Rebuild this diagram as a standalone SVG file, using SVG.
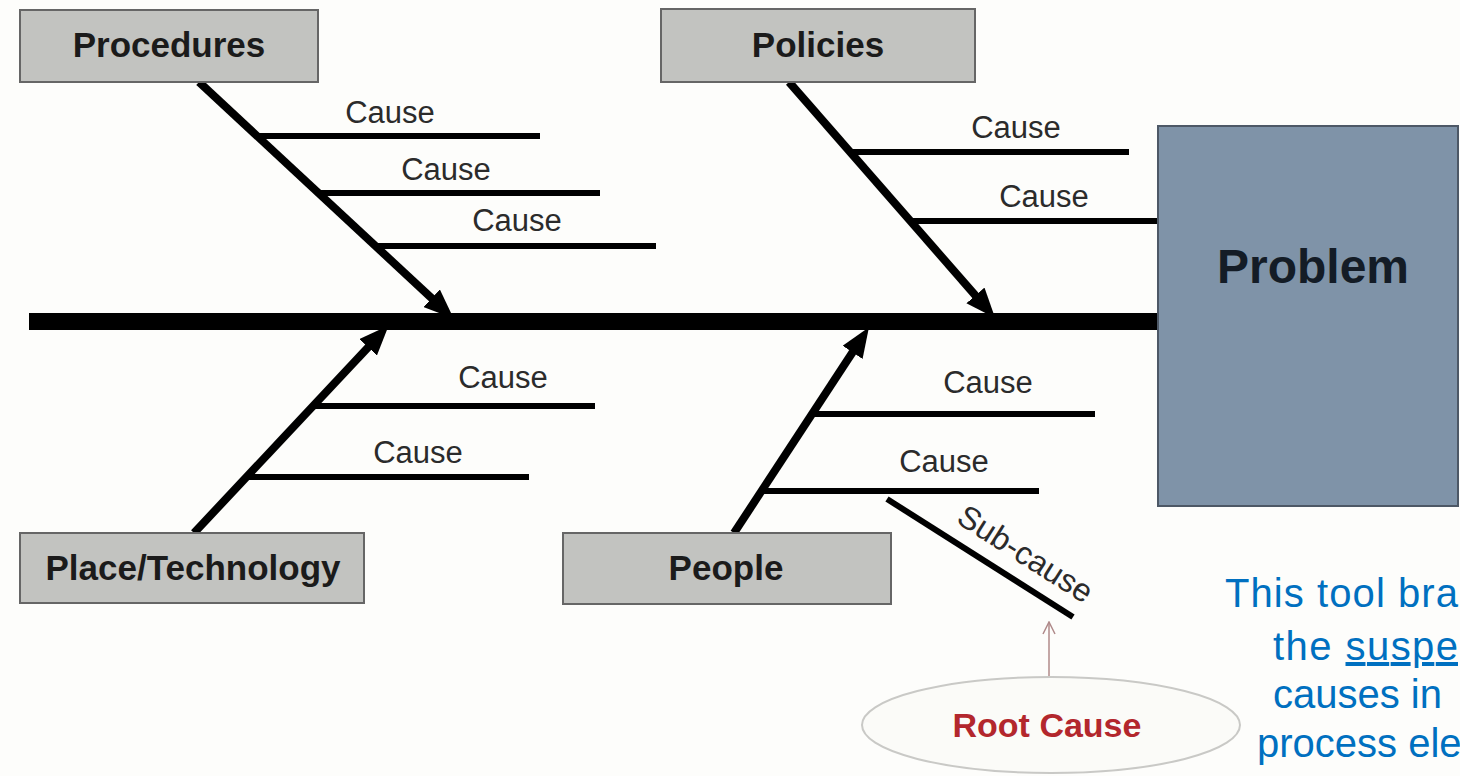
<svg xmlns="http://www.w3.org/2000/svg" width="1460" height="776" viewBox="0 0 1460 776">
  <style>
    .cat { fill: #c2c3c0; stroke: #666; stroke-width: 2; }
    .catlbl { font-family: "Liberation Sans", Arial, sans-serif; font-weight: bold; font-size: 35px; fill: #1b1b1b; text-anchor: middle; }
    .cause { font-family: "Liberation Sans", Arial, sans-serif; font-size: 31px; fill: #2b2b2b; text-anchor: middle; }
    .bone { stroke: #000; stroke-width: 8; fill: none; }
    .cline { stroke: #000; stroke-width: 6; fill: none; }
    .blue { font-family: "Liberation Sans", Arial, sans-serif; font-size: 40px; fill: #0070c0; }
  </style>
  <defs>
    <marker id="head" viewBox="0 0 30 24" markerWidth="30" markerHeight="24" refX="10" refY="12" orient="auto" markerUnits="userSpaceOnUse">
      <path d="M0,0 L30,12 L0,24 z" fill="#000"/>
    </marker>
    <marker id="thin" viewBox="0 0 14 14" markerWidth="14" markerHeight="14" refX="13" refY="7" orient="auto" markerUnits="userSpaceOnUse">
      <path d="M1,1 L13,7 L1,13" fill="none" stroke="#b08a8a" stroke-width="1.5"/>
    </marker>
  </defs>
  <rect width="1460" height="776" fill="#fdfdfb"/>

  <g id="connectors">
    <line x1="29" y1="321.5" x2="1160" y2="321.5" stroke="#000" stroke-width="17"/>
    <line class="bone" x1="199" y1="82" x2="439" y2="305" marker-end="url(#head)"/>
    <line class="bone" x1="789" y1="82" x2="982" y2="303" marker-end="url(#head)"/>
    <line class="bone" x1="194" y1="533" x2="375" y2="340" marker-end="url(#head)"/>
    <line class="bone" x1="734" y1="533" x2="858" y2="344" marker-end="url(#head)"/>
    <line class="cline" x1="257" y1="136" x2="540" y2="136"/>
    <line class="cline" x1="318" y1="193" x2="600" y2="193"/>
    <line class="cline" x1="374" y1="246" x2="656" y2="246"/>
    <line class="cline" x1="850" y1="152" x2="1129" y2="152"/>
    <line class="cline" x1="910" y1="221" x2="1160" y2="221"/>
    <line class="cline" x1="312" y1="406" x2="595" y2="406"/>
    <line class="cline" x1="246" y1="477" x2="529" y2="477"/>
    <line class="cline" x1="813" y1="414" x2="1095" y2="414"/>
    <line class="cline" x1="762" y1="491" x2="1039" y2="491"/>
    <line class="cline" x1="887" y1="499" x2="1073" y2="617"/>
    <line x1="1049" y1="676" x2="1049" y2="622" stroke="#b08a8a" stroke-width="1.5" marker-end="url(#thin)"/>
  </g>

  <g id="causes">
    <text class="cause" x="390" y="123">Cause</text>
    <text class="cause" x="446" y="180">Cause</text>
    <text class="cause" x="517" y="231">Cause</text>
    <text class="cause" x="1016" y="138">Cause</text>
    <text class="cause" x="1044" y="207">Cause</text>
    <text class="cause" x="503" y="388">Cause</text>
    <text class="cause" x="418" y="463">Cause</text>
    <text class="cause" x="988" y="393">Cause</text>
    <text class="cause" x="944" y="472">Cause</text>
    <text class="cause" style="text-anchor:start;font-size:32px" transform="translate(955,522) rotate(32.4)">Sub-cause</text>
  </g>

  <g id="procedures">
    <rect class="cat" x="20" y="10" width="298" height="72"/>
    <text class="catlbl" x="169" y="57">Procedures</text>
  </g>
  <g id="policies">
    <rect class="cat" x="661" y="9" width="314" height="73"/>
    <text class="catlbl" x="818" y="57">Policies</text>
  </g>
  <g id="place-technology">
    <rect class="cat" x="20" y="533" width="344" height="70"/>
    <text class="catlbl" x="193" y="580">Place/Technology</text>
  </g>
  <g id="people">
    <rect class="cat" x="563" y="533" width="328" height="71"/>
    <text class="catlbl" x="726" y="580">People</text>
  </g>
  <g id="problem">
    <rect x="1158" y="126" width="300" height="380" fill="#7f93a8" stroke="#4d5866" stroke-width="2"/>
    <text x="1313" y="283" font-family="Liberation Sans, Arial, sans-serif" font-weight="bold" font-size="48" fill="#141c26" text-anchor="middle">Problem</text>
  </g>
  <g id="root-cause">
    <ellipse cx="1051" cy="725" rx="189" ry="48" fill="#fbfbf8" stroke="#c9c9c6" stroke-width="2"/>
    <text x="1047" y="737" font-family="Liberation Sans, Arial, sans-serif" font-weight="bold" font-size="34" fill="#b3272d" text-anchor="middle">Root Cause</text>
  </g>
  <g id="note">
    <text class="blue" x="1225" y="607" textLength="233">This tool bra</text>
    <text class="blue" x="1273" y="660" textLength="185">the <tspan text-decoration="underline">suspe</tspan></text>
    <text class="blue" x="1273" y="708">causes in</text>
    <text class="blue" x="1257" y="757">process ele</text>
  </g>
</svg>
